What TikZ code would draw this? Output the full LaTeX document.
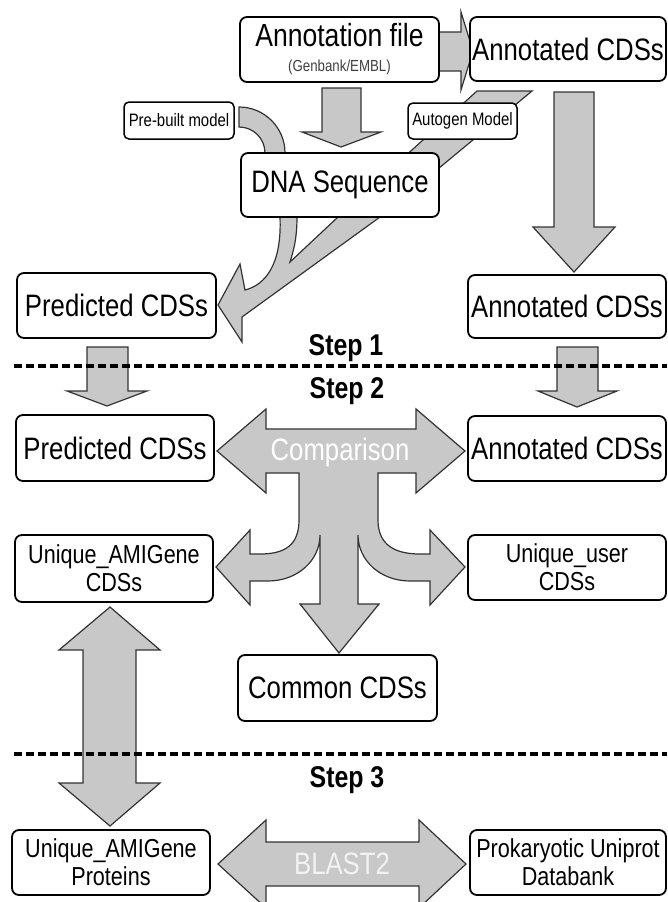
\documentclass[tikz,border=0pt]{standalone}
\usepackage{fontspec}
\setmainfont{Liberation Sans}[FakeStretch=0.83]
\begin{document}
\begin{tikzpicture}[x=1pt,y=-1pt,
  box/.style={draw=black, line width=1.8pt, rounded corners=7pt, fill=white, inner sep=0pt, align=center},
  garrow/.style={fill=arrowgray, draw=outline, line width=1.2pt, line join=miter},
  big/.style={font=\fontsize{31}{34}\selectfont},
  mid/.style={font=\fontsize{26}{28}\selectfont},
  small/.style={font=\fontsize{18}{20}\selectfont},
  steplabel/.style={font=\fontsize{30}{32}\selectfont\bfseries, anchor=base, inner sep=0pt},
  sepline/.style={line width=3.5pt, dash pattern=on 8pt off 4pt, draw=black}
]
\definecolor{arrowgray}{HTML}{C8C8C8}
\definecolor{outline}{HTML}{333333}
\useasboundingbox (0,0) rectangle (667,902);
\clip (0,0) rectangle (667,902);

% ---- Step 1 arrows ----
\path[garrow] (439,32) -- (461,32) -- (461,12) -- (473,51) -- (461,90) -- (461,71) -- (439,71) -- cycle;
\path[garrow] (322,88) -- (361,88) -- (361,132) -- (381,132) -- (341,147) -- (302,132) -- (322,132) -- cycle;
\path[garrow] (554,92) -- (594,92) -- (594,227) -- (615,227) -- (574,272) -- (533,227) -- (554,227) -- cycle;
\path[garrow] (477,91) -- (532,91) -- (380,217) -- (242,317) -- (242,342) -- (218,305) -- (240,264) -- (245,290)
  .. controls (265,285) and (282,265) .. (280,217) -- (265,153)
  .. controls (265,138.6) and (253.4,127) .. (239,127) -- (239,107)
  .. controls (264.4,107) and (285,127.6) .. (285,153) -- (297,217)
  .. controls (297,240) and (293,252) .. (290,262) -- (338,217) -- cycle;

% ---- Step 1 boxes ----
\node[box, minimum width=199, minimum height=65, font=\fontsize{16}{25}\selectfont] (annfile) at (339.5,49.5)
  {{\fontsize{32}{25}\selectfont Annotation file}\\{\color{black!75}(Genbank/EMBL)}};
\node[box, big, minimum width=196, minimum height=64] (anntop) at (568,49) {Annotated CDSs};
\node[box, small, minimum width=110, minimum height=37, line width=1.5pt, rounded corners=5pt] (prebuilt) at (179,120.5) {Pre-built model};
\node[box, small, minimum width=109, minimum height=36, line width=1.5pt, rounded corners=5pt] (autogen) at (462.5,121) {Autogen Model};
\node[box, big, minimum width=198, minimum height=64] (dna) at (340,185) {DNA Sequence};
\node[box, big, minimum width=199, minimum height=65] (pred1) at (116.5,305.5) {Predicted CDSs};
\node[box, big, minimum width=198, minimum height=63] (annot1) at (567,306.5) {Annotated CDSs};

% ---- Step 2 arrows ----
\path[garrow] (87,347) -- (128,347) -- (128,391) -- (147,391) -- (107,406) -- (67,391) -- (87,391) -- cycle;
\path[garrow] (557,347) -- (598,347) -- (598,391) -- (617,391) -- (577,407) -- (538,391) -- (557,391) -- cycle;
\path[garrow] (217,451) -- (266,409) -- (266,429) -- (416,429) -- (416,409) -- (465,451) -- (416,493) -- (416,473)
  -- (378,473) -- (378,520) .. controls (378,545) and (395,554) .. (420,554) -- (430,554) -- (430,530) -- (465,567)
  -- (430,605) -- (430,581) -- (410,581) .. controls (380,581) and (358,560) .. (358,535)
  -- (358,604) -- (379,604) -- (339,653) -- (300,604) -- (320,604) -- (320,535)
  .. controls (320,560) and (298,581) .. (268,581) -- (250,581) -- (250,605) -- (216,567) -- (250,530) -- (250,554)
  -- (260,554) .. controls (285,554) and (299,545) .. (299,520) -- (299,473) -- (266,473) -- (266,493) -- cycle;
\node[big, text=white, inner sep=0pt] (cmp) at (340,452) {Comparison};

% ---- Step 3 arrows ----
\path[garrow] (110,607) -- (160,650) -- (136,650) -- (136,783) -- (160,783) -- (110,826) -- (59,783) -- (83,783) -- (83,650) -- (59,650) -- cycle;
\path[garrow] (218,864) -- (266,820) -- (266,842) -- (419,842) -- (419,820) -- (466,864) -- (419,908) -- (419,886) -- (266,886) -- (266,908) -- cycle;
\node[big, text=black!5, inner sep=0pt] (blast) at (342,864) {BLAST2};

% ---- separators and step labels ----
\draw[sepline] (14,366) -- (667,366);
\draw[sepline] (14,754) -- (667,754);
\node[steplabel] (s1) at (346,355) {Step 1};
\node[steplabel] (s2) at (347,398) {Step 2};
\node[steplabel] (s3) at (347,787) {Step 3};

% ---- Step 2 / 3 boxes ----
\node[box, big, minimum width=198, minimum height=66] (pred2) at (115,448) {Predicted CDSs};
\node[box, big, minimum width=198, minimum height=65] (annot2) at (567,448.5) {Annotated CDSs};
\node[box, mid, minimum width=198, minimum height=67] (uniqA) at (114,568.5) {Unique\_AMIGene\\CDSs};
\node[box, mid, minimum width=198, minimum height=65] (uniqU) at (567,567.5) {Unique\_user\\CDSs};
\node[box, big, minimum width=199, minimum height=66] (common) at (337.5,688) {Common CDSs};
\node[box, mid, minimum width=198, minimum height=65] (uniqP) at (111,862.5) {Unique\_AMIGene\\Proteins};
\node[box, mid, minimum width=196, minimum height=65] (prok) at (568,862.5) {Prokaryotic Uniprot\\Databank};
\end{tikzpicture}
\end{document}
